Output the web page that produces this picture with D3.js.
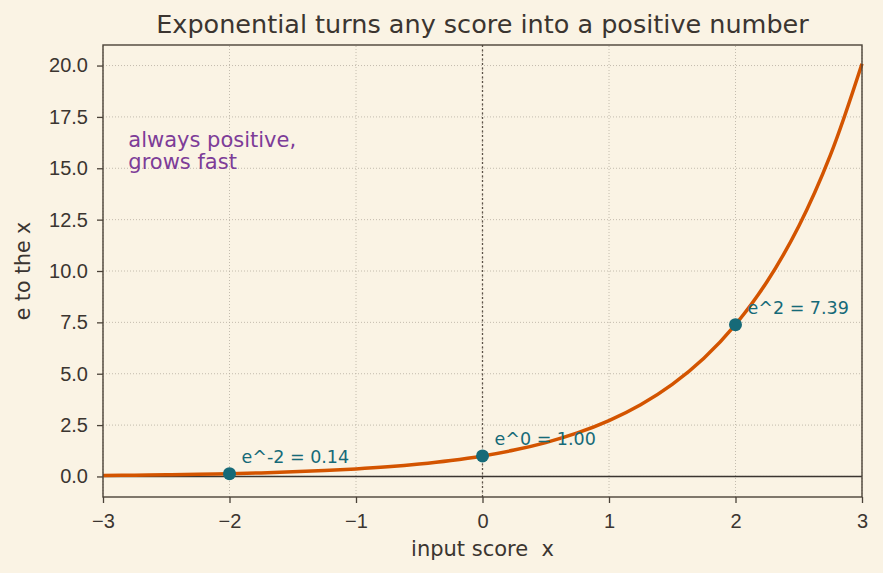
<!DOCTYPE html>
<meta charset="UTF-8">
<style>
body { margin: 0; background: #faf3e4; }
svg { font-family: "DejaVu Sans", sans-serif; }
.grid line { stroke: #b5ada0; stroke-width: 0.8; stroke-dasharray: 1,2; }
.axis text { fill: #3b3530; font-size: 20px; }
.axis line, .axis path { stroke: #4a4238; stroke-width: 1.3; }
</style>
<body>
<script src="https://d3js.org/d3.v7.min.js"></script>
<script>

// values, every 0.25 along x
var curveX = [-3, -2.75, -2.5, -2.25, -2, -1.75, -1.5, -1.25, -1, -0.75, -0.5, -0.25,
              0, 0.25, 0.5, 0.75, 1, 1.25, 1.5, 1.75, 2, 2.25, 2.5, 2.75, 3];
var curveY = [0.05, 0.064, 0.082, 0.105, 0.135, 0.174, 0.223, 0.287, 0.368, 0.472, 0.607, 0.779,
              1.0, 1.284, 1.649, 2.117, 2.718, 3.49, 4.482, 5.755, 7.389, 9.488, 12.18, 15.64, 20.09];

var markX = [-2, 0, 2];
var markY = [0.135, 1.0, 7.389];
var markLabels = ["e^-2 = 0.14", "e^0 = 1.00", "e^2 = 7.39"];

var xTicks = [-3, -2, -1, 0, 1, 2, 3];
var yTicks = [0, 2.5, 5, 7.5, 10, 12.5, 15, 17.5, 20];

var W = 883, H = 573;
var margin = {top: 45, right: 21, bottom: 76, left: 103};

var svg = d3.select("body").append("svg")
    .attr("width", W)
    .attr("height", H);

svg.append("rect").attr("width", W).attr("height", H).attr("fill", "#faf3e4");

var x = d3.scaleLinear().domain([-3, 3]).range([margin.left, W - margin.right]);
var y = d3.scaleLinear().domain([-1, 21]).range([H - margin.bottom, margin.top]);

// grid
var grid = svg.append("g").attr("class", "grid");
grid.selectAll("line.v").data(xTicks).enter().append("line")
    .attr("x1", d => x(d)).attr("x2", d => x(d))
    .attr("y1", y.range()[0]).attr("y2", y.range()[1]);
grid.selectAll("line.h").data(yTicks).enter().append("line")
    .attr("y1", d => y(d)).attr("y2", d => y(d))
    .attr("x1", x.range()[0]).attr("x2", x.range()[1]);

// reference lines
svg.append("line")
    .attr("x1", x(0)).attr("x2", x(0))
    .attr("y1", y.range()[0]).attr("y2", y.range()[1])
    .attr("stroke", "#5a5045").attr("stroke-width", 1.3)
    .attr("stroke-dasharray", "2,2.5");
svg.append("line")
    .attr("x1", x.range()[0]).attr("x2", x.range()[1])
    .attr("y1", y(0)).attr("y2", y(0))
    .attr("stroke", "#3b3530").attr("stroke-width", 1.4);

// curve
var pts = curveX.map((d, i) => [d, curveY[i]]);
var line = d3.line()
    .x(d => x(d[0]))
    .y(d => y(d[1]))
    .curve(d3.curveCatmullRom);
svg.append("path")
    .datum(pts)
    .attr("d", line)
    .attr("fill", "none")
    .attr("stroke", "#d35400")
    .attr("stroke-width", 3.5);

// marked points
var marks = markX.map((d, i) => ({x: d, y: markY[i], label: markLabels[i]}));
svg.selectAll("circle.mark").data(marks).enter().append("circle")
    .attr("cx", d => x(d.x)).attr("cy", d => y(d.y))
    .attr("r", 6.5)
    .attr("fill", "#166a78");
svg.selectAll("text.mark").data(marks).enter().append("text")
    .attr("x", d => x(d.x) + 12)
    .attr("y", d => y(d.y) - 11)
    .attr("fill", "#166a78")
    .style("font-size", "17.5px")
    .text(d => d.label);

// frame
svg.append("rect")
    .attr("x", margin.left).attr("y", margin.top)
    .attr("width", W - margin.left - margin.right)
    .attr("height", H - margin.top - margin.bottom)
    .attr("fill", "none")
    .attr("stroke", "#4a4238").attr("stroke-width", 1.4);

// axes
var xAxis = svg.append("g").attr("class", "axis")
    .attr("transform", "translate(0," + (H - margin.bottom) + ")")
    .call(d3.axisBottom(x).tickValues(xTicks).tickSize(6).tickPadding(11)
        .tickFormat(d => d < 0 ? "\u2212" + Math.abs(d) : d));
xAxis.select(".domain").remove();

var yAxis = svg.append("g").attr("class", "axis")
    .attr("transform", "translate(" + margin.left + ",0)")
    .call(d3.axisLeft(y).tickValues(yTicks).tickSize(6).tickPadding(9)
        .tickFormat(d3.format(".1f")));
yAxis.select(".domain").remove();

// annotation
var note = svg.append("text")
    .attr("x", x(-2.8))
    .attr("fill", "#7d3c98")
    .style("font-size", "21px");
note.append("tspan").attr("x", x(-2.8)).attr("y", 146.5).text("always positive,");
note.append("tspan").attr("x", x(-2.8)).attr("y", 169).text("grows fast");

// title and labels
svg.append("text")
    .attr("x", (margin.left + W - margin.right) / 2)
    .attr("y", 33)
    .attr("text-anchor", "middle")
    .attr("fill", "#3b3530")
    .style("font-size", "25.5px")
    .text("Exponential turns any score into a positive number");

svg.append("text")
    .attr("x", (margin.left + W - margin.right) / 2)
    .attr("y", 556)
    .attr("text-anchor", "middle")
    .attr("fill", "#3b3530")
    .style("font-size", "21px")
    .style("white-space", "pre")
    .text("input score  x");

svg.append("text")
    .attr("transform", "translate(30," + ((margin.top + H - margin.bottom) / 2) + ") rotate(-90)")
    .attr("text-anchor", "middle")
    .attr("fill", "#3b3530")
    .style("font-size", "20.5px")
    .text("e to the x");

</script>
</body>
